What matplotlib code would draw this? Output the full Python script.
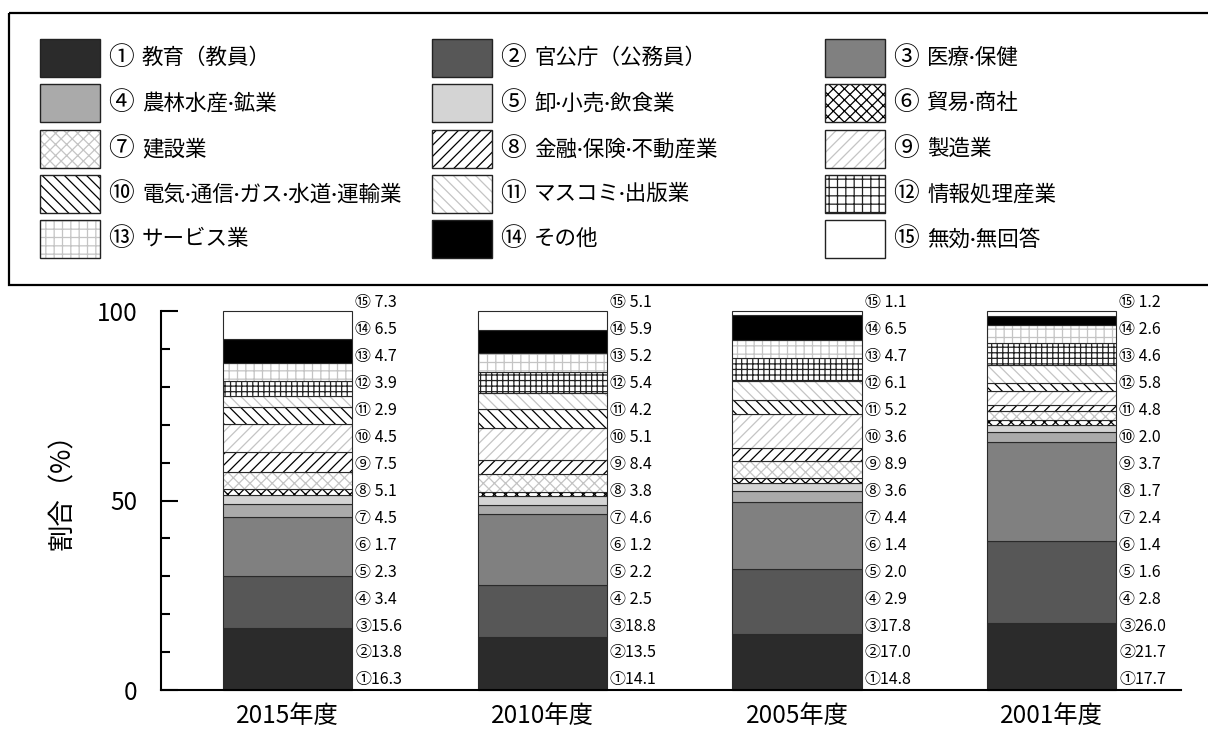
import numpy as np
import matplotlib
matplotlib.use("Agg")
import matplotlib.pyplot as plt
from matplotlib.patches import Rectangle

plt.rcParams["font.family"] = ["Noto Sans CJK JP", "DejaVu Sans"]
plt.rcParams["hatch.linewidth"] = 0.9

# ---- data -------------------------------------------------------------
years = ["2015年度", "2010年度", "2005年度", "2001年度"]
marks = ["①", "②", "③", "④", "⑤", "⑥", "⑦", "⑧", "⑨", "⑩",
         "⑪", "⑫", "⑬", "⑭", "⑮"]
industries = ["教育（教員）", "官公庁（公務員）", "医療·保健",
              "農林水産·鉱業", "卸·小売·飲食業", "貿易·商社",
              "建設業", "金融·保険·不動産業", "製造業",
              "電気·通信·ガス·水道·運輸業", "マスコミ·出版業", "情報処理産業",
              "サービス業", "その他", "無効·無回答"]

share_2015 = [16.3, 13.8, 15.6, 3.4, 2.3, 1.7, 4.5, 5.1, 7.5, 4.5, 2.9, 3.9, 4.7, 6.5, 7.3]
share_2010 = [14.1, 13.5, 18.8, 2.5, 2.2, 1.2, 4.6, 3.8, 8.4, 5.1, 4.2, 5.4, 5.2, 5.9, 5.1]
share_2005 = [14.8, 17.0, 17.8, 2.9, 2.0, 1.4, 4.4, 3.6, 8.9, 3.6, 5.2, 6.1, 4.7, 6.5, 1.1]
share_2001 = [17.7, 21.7, 26.0, 2.8, 1.6, 1.4, 2.4, 1.7, 3.7, 2.0, 4.8, 5.8, 4.6, 2.6, 1.2]

shares = np.array([share_2015, share_2010, share_2005, share_2001])

# ---- fill styles per category: (face, bar hatch, legend hatch, hatch colour)
LG = "#c4c4c4"
styles = [
    ("#2b2b2b", "", "", None),
    ("#575757", "", "", None),
    ("#808080", "", "", None),
    ("#aaaaaa", "", "", None),
    ("#d4d4d4", "", "", None),
    ("white", "xxx", "xxx", "black"),
    ("white", "xxx", "xxx", LG),
    ("white", "///", "///", "black"),
    ("white", "///", "///", LG),
    ("white", "\\\\\\", "\\\\\\", "black"),
    ("white", "\\\\\\", "\\\\\\", LG),
    ("white", "+++", "++", "#222222"),
    ("white", "++", "++", LG),
    ("black", "", "", None),
    ("white", "", "", None),
]

W, H = 1208, 731
fig = plt.figure(figsize=(W / 100, H / 100), dpi=100)

# ---- legend panel (pixel coordinates) --------------------------------
top = fig.add_axes([0, 0, 1, 1])
top.set_xlim(0, W)
top.set_ylim(H, 0)
top.axis("off")
top.add_patch(Rectangle((9, 13), 1220, 272, fill=False, edgecolor="black",
                        linewidth=1.6))
col_x = [40, 432, 825]
row_y = [39, 84, 130, 175, 220]
for k, (face, _, lhatch, hc) in enumerate(styles):
    r, c = divmod(k, 3)
    x0, y0 = col_x[c], row_y[r]
    top.add_patch(Rectangle((x0, y0), 60, 38, facecolor=face, hatch=lhatch,
                            edgecolor=hc if hc else face, linewidth=0))
    top.add_patch(Rectangle((x0, y0), 60, 38, fill=False,
                            edgecolor="#222222", linewidth=1.0))
    top.text(x0 + 68, y0 + 19, marks[k], fontsize=18.5, ha="left",
             va="center")
    # narrow Latin middle dot, CJK glyphs from Noto
    top.text(x0 + 102, y0 + 19, industries[k], fontsize=15.5, ha="left",
             va="center", family=["Lato", "Noto Sans CJK JP"])

# ---- stacked bars ------------------------------------------------------
ax = fig.add_axes([161 / W, (H - 690) / H, 1020 / W, 379 / H])
x = np.arange(len(years))
width = 0.507
bottom = np.zeros(len(years))
for k, (face, bhatch, _, hc) in enumerate(styles):
    vals = shares[:, k]
    ax.bar(x, vals, width, bottom=bottom, color=face, hatch=bhatch,
           edgecolor=hc if hc else face, linewidth=0, clip_on=False)
    ax.bar(x, vals, width, bottom=bottom, fill=False, edgecolor="#2a2a2a",
           linewidth=0.8, clip_on=False)
    bottom += vals

# value labels, evenly spaced beside each bar
label_y = np.linspace(2.65, 102.3, len(marks))
for i in range(len(years)):
    for k in range(len(marks)):
        ax.annotate(f"{marks[k]}{shares[i, k]:4.1f}",
                    xy=(x[i] + width / 2, label_y[k]), xytext=(3, 0),
                    textcoords="offset pixels", ha="left", va="center",
                    fontsize=11.5, annotation_clip=False)

ax.set_xlim(-0.497, 3.508)
ax.set_ylim(0, 100)
ax.set_xticks(x)
ax.set_xticklabels(years)
ax.set_yticks([0, 50, 100])
ax.set_yticks(np.arange(10, 100, 10), minor=True)
ax.tick_params(axis="x", length=0, labelsize=17.5, pad=9)
ax.tick_params(axis="y", which="major", direction="in", length=12,
               width=1.5, labelsize=17.5, pad=17)
ax.tick_params(axis="y", which="minor", direction="in", length=6.5,
               width=1.5)
for side in ("top", "right"):
    ax.spines[side].set_visible(False)
for side in ("left", "bottom"):
    ax.spines[side].set_linewidth(1.5)

fig.text(62 / W, 1 - 485 / H, "割合（%）", rotation=90, fontsize=19,
         ha="center", va="center")

fig.savefig("out.png", dpi=100)
